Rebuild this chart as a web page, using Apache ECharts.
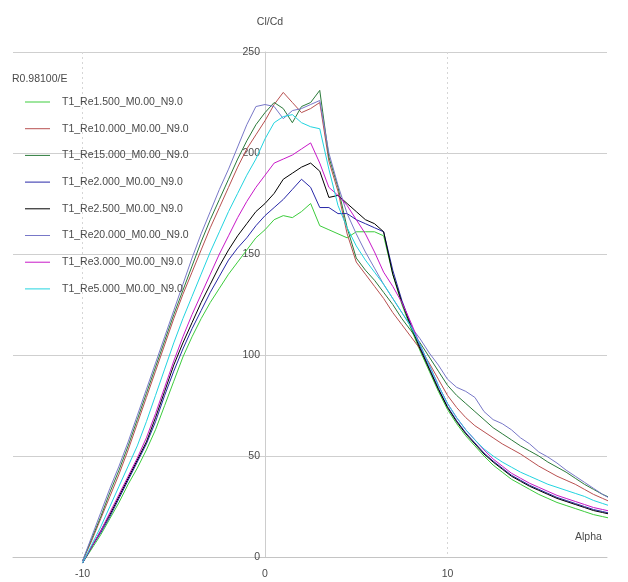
<!DOCTYPE html>
<html>
<head>
<meta charset="utf-8">
<script src="https://cdn.jsdelivr.net/npm/echarts@6/dist/echarts.min.js"></script>
<style>
  html, body { margin: 0; padding: 0; background: #ffffff; }
  #chart { width: 628px; height: 582px; }
</style>
</head>
<body>
<div id="chart"></div>
<script>
// Angle of attack (deg), shared by every polar
const alpha = [
  -10, -9.5, -9, -8.5, -8, -7.5, -7, -6.5, -6, -5.5, -5, -4.5, -4, -3.5, -3, -2.5, -2, -1.5, -1, -0.5,
  0, 0.5, 1, 1.5, 2, 2.5, 3, 3.5, 4, 4.5, 5, 5.5, 6, 6.5, 7, 7.5, 8, 8.5, 9, 9.5,
  10, 10.5, 11, 11.5, 12, 12.5, 13, 13.5, 14, 14.5, 15, 15.5, 16, 16.5, 17, 17.5, 18, 18.5, 19, 19.5, 20
];

const polarNames = [
  'T1_Re1.500_M0.00_N9.0', 'T1_Re10.000_M0.00_N9.0', 'T1_Re15.000_M0.00_N9.0', 'T1_Re2.000_M0.00_N9.0',
  'T1_Re2.500_M0.00_N9.0', 'T1_Re20.000_M0.00_N9.0', 'T1_Re3.000_M0.00_N9.0', 'T1_Re5.000_M0.00_N9.0'
];

// Cl/Cd for each polar
const re1500 = [
  -3, 4, 11, 19, 27, 36, 44, 53, 63, 75, 87, 99, 109, 118, 126, 133, 140, 146, 152, 158,
  162, 167, 169, 168, 171, 175, 164, 162, 160, 158, 161, 161, 161, 159, 140, 125, 113, 102, 92, 82,
  73, 66, 60, 55, 50, 45.5, 42, 38.5, 36, 33.5, 31, 29, 27, 25.5, 24, 22.5, 21, 20, 19, 18, 17
];
const re10000 = [
  -2, 8, 19, 30, 41, 53, 66, 79, 92, 105, 118, 130, 141, 152, 163, 173, 183, 193, 202, 209,
  216, 224, 230, 225, 220, 222, 225, 196, 181, 160, 146, 140, 134, 128, 121, 115, 109, 103, 96, 88,
  80, 74, 69, 65, 62, 59, 56, 53.5, 51, 48, 45, 42.5, 40, 38, 36, 33.5, 31, 29, 27, 25, 23
];
const re15000 = [
  -2, 9, 20, 32, 43, 55, 68, 81, 94, 107, 120, 132, 144, 156, 167, 177, 187, 197, 206, 214,
  220, 225, 222, 215, 223, 225, 231, 198, 183, 163, 148, 142, 137, 131, 125, 118, 112, 106, 99, 92,
  85, 80, 76, 72, 68, 64, 61, 58, 55, 52.5, 50, 47, 44.5, 42, 39, 36, 33.5, 31, 29, 27.5, 26
];
const re2000 = [
  -3, 5, 12, 20, 29, 38, 47, 56, 67, 80, 92, 103, 113, 122, 131, 139, 147, 153, 158, 164,
  169, 173, 177, 182, 187, 183, 173, 173, 170, 170, 167, 165, 163, 161, 142, 127, 115, 104, 93.5, 83.5,
  74.5, 67.5, 61.5, 56.5, 51.5, 47.5, 44, 40.5, 38, 35.5, 33.5, 31.5, 29.5, 28, 26.5, 25, 23.5, 22.5, 21.5, 20.5, 19.5
];
const re2500 = [
  -3, 5, 13, 21, 30, 39, 48, 57, 69, 82, 95, 106, 116, 126, 135, 144, 152, 159, 165, 171,
  175, 180, 187, 190, 193, 195, 191, 178, 179, 175, 171, 167, 165, 161, 140, 126, 114, 103, 93, 83,
  74, 67, 61, 56, 51, 47, 43.5, 40, 37.5, 35, 33, 31, 29, 27.5, 26, 24.5, 23, 22, 21, 20, 19
];
const re20000 = [
  -2, 10, 22, 34, 45, 57, 70, 83, 96, 109, 122, 135, 148, 160, 171, 182, 192, 203, 214, 223,
  224, 223, 217, 221, 222, 224, 226, 200, 184, 170, 160, 151, 143, 135, 128, 121, 114, 108, 101, 95,
  88, 84, 82, 79, 72, 68, 66, 63, 59, 56, 52, 49.5, 46.5, 43, 40, 37, 34, 31, 28.5, 26.5, 24.5
];
const re3000 = [
  -3, 5, 13, 22, 31, 40, 49, 59, 71, 84, 97, 109, 120, 130, 140, 150, 159, 168, 176, 183,
  189, 195, 197, 199, 202, 205, 195, 183, 179, 174, 167, 160, 151, 141, 134, 126, 116, 105, 95, 85,
  76, 69, 63, 58, 53, 48.5, 45, 41.5, 39, 36.5, 34.5, 32.5, 30.5, 29, 27.5, 26, 24.5, 23.5, 22.5, 21.5, 20.5
];
const re5000 = [
  -3, 6, 15, 25, 35, 45, 55, 67, 80, 93, 106, 118, 129, 140, 151, 161, 171, 180, 189, 197,
  207, 215, 218, 219, 215, 213, 212, 192, 174, 163, 154, 147, 141, 135, 128, 121, 114, 105, 95, 85,
  76, 69, 63, 58, 53.5, 50, 47, 44.5, 42, 40, 38, 36, 34.5, 33, 31.5, 30, 28, 26.5, 25, 23.5, 22
];

const polarValues = [re1500, re10000, re15000, re2000, re2500, re20000, re3000, re5000];
const polarColors = ['#3ccc3c', '#b85050', '#2a7a3a', '#2828a8', '#000000', '#7878c8', '#c818c8', '#22d4e0'];

const xLabelValues = [-10, 0, 10];

const textFont = "'Liberation Sans', Arial, sans-serif";

const chart = echarts.init(document.getElementById('chart'), null, { renderer: 'canvas' });

const series = polarNames.map((name, k) => ({
  name: name,
  type: 'line',
  yAxisIndex: 0,
  data: alpha.map((a, i) => [a, polarValues[k][i]]),
  symbol: 'none',
  clip: false,
  smooth: false,
  lineStyle: { color: polarColors[k], width: 1 },
  itemStyle: { color: polarColors[k] },
  emphasis: { disabled: true }
}));

const axisText = { fontFamily: textFont, fontSize: 10.5, color: '#4a4a4a' };

chart.setOption({
  animation: false,
  backgroundColor: '#ffffff',
  title: {
    text: 'R0.98100/E',
    left: 12,
    top: 74,
    padding: 0,
    textStyle: { fontFamily: textFont, fontSize: 10.5, fontWeight: 'normal', color: '#4a4a4a' }
  },
  legend: {
    orient: 'vertical',
    left: 25,
    top: 95,
    padding: 0,
    icon: 'rect',
    itemWidth: 25,
    itemHeight: 1,
    itemGap: 12.7,
    data: polarNames,
    textStyle: { fontFamily: textFont, fontSize: 10.5, lineHeight: 14, color: '#4a4a4a', padding: [0, 0, 0, 7] }
  },
  grid: { left: 13, right: 21, top: 52, bottom: 25, containLabel: false, outerBoundsMode: 'none' },
  xAxis: {
    type: 'value',
    min: -13.81,
    max: 18.74,
    name: 'Alpha',
    nameLocation: 'end',
    nameGap: -32,
    nameTextStyle: Object.assign({ verticalAlign: 'bottom', lineHeight: 40 }, axisText),
    axisLine: { show: true, onZero: false, lineStyle: { color: '#c4c4c4', width: 1 } },
    axisTick: { show: false, customValues: xLabelValues },
    axisLabel: Object.assign({ customValues: xLabelValues, margin: 12 }, axisText),
    splitLine: { show: true, lineStyle: { color: '#d6d6d6', type: [2, 3], width: 1 } }
  },
  yAxis: [
    {
      // carries the horizontal grid lines along the full plot width
      type: 'value',
      min: 0,
      max: 250,
      interval: 50,
      axisLine: { show: false, onZero: false },
      axisTick: { show: false },
      axisLabel: { show: false },
      splitLine: { show: true, lineStyle: { color: '#cfcfcf', width: 1 } }
    },
    {
      // visible Cl/Cd scale, drawn through alpha = 0
      type: 'value',
      position: 'left',
      offset: -252,
      min: 0,
      max: 250,
      interval: 50,
      name: 'Cl/Cd',
      nameLocation: 'end',
      nameGap: 24,
      nameTextStyle: Object.assign({ padding: [0, 0, 0, 10] }, axisText),
      axisLine: { show: true, onZero: false, lineStyle: { color: '#cdcdcd', width: 1 } },
      axisTick: { show: false },
      axisLabel: Object.assign({ margin: 5 }, axisText),
      splitLine: { show: false }
    }
  ],
  series: series
});
</script>
</body>
</html>
